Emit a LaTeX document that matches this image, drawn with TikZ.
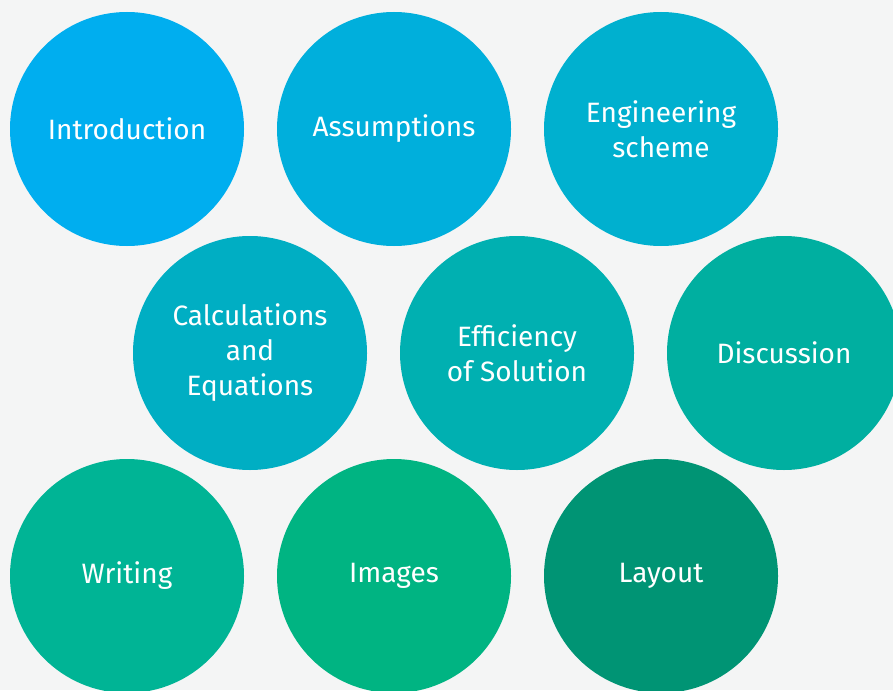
\documentclass[tikz,border=0pt]{standalone}
\usepackage{fontspec}
\setmainfont{Fira Sans}
\usetikzlibrary{positioning}
\definecolor{fondo}{HTML}{F4F5F5}
\definecolor{c1}{HTML}{00AEEF}
\definecolor{c2}{HTML}{00AFDC}
\definecolor{c3}{HTML}{00B0CF}
\definecolor{c4}{HTML}{00AEC3}
\definecolor{c5}{HTML}{00B0B1}
\definecolor{c6}{HTML}{00AFA0}
\definecolor{c7}{HTML}{00B495}
\definecolor{c8}{HTML}{00B482}
\definecolor{c9}{HTML}{009474}
\tikzset{
main node/.style={circle,minimum size=234pt,inner sep=0pt,text=white,align=center,
  font=\fontsize{28}{35}\selectfont}}

\begin{document}
\begin{tikzpicture}[x=1pt,y=-1pt]

\useasboundingbox (0,0) rectangle (893,690);
\fill[fondo] (0,0) rectangle (893,690);
\clip (0,0) rectangle (893,690);

\node[main node,fill=c1] (intro) at (127,129) {Introduction};
\node[main node,fill=c2] (assum) at (394,129) {Assumptions};
\node[main node,fill=c3] (engin) at (661,129) {Engineering\\scheme};

\node[main node,fill=c4] (calc) at (250,353) {Calculations\\and\\Equations};
\node[main node,fill=c5] (effic) at (517,353) {Efficiency\\of Solution};
\node[main node,fill=c6] (discu) at (784,353) {Discussion};

\node[main node,fill=c7] (writ) at (127,576) {Writing};
\node[main node,fill=c8] (imag) at (394,576) {Images};
\node[main node,fill=c9] (layo) at (661,576) {Layout};

\end{tikzpicture}
\end{document}
